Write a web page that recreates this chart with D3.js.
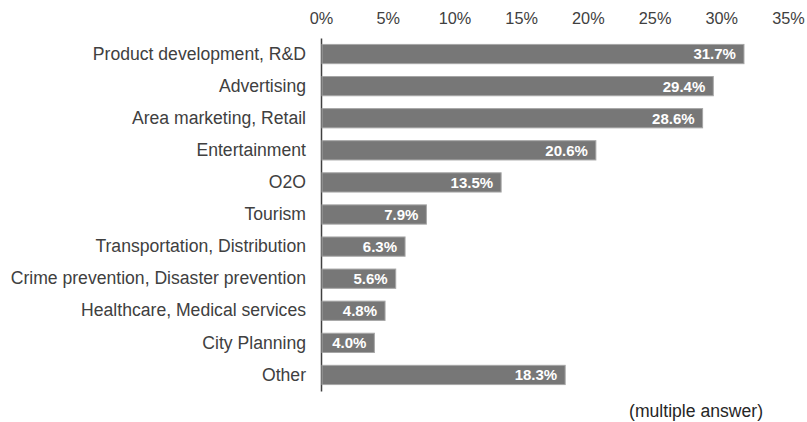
<!DOCTYPE html>
<html>
<head>
<meta charset="utf-8">
<script src="https://cdn.jsdelivr.net/npm/d3@7"></script>
<style>
  html, body { margin: 0; padding: 0; background: #fff; }
  svg { display: block; font-family: "Liberation Sans", Arial, sans-serif; }
</style>
</head>
<body>
<svg id="chart" width="807" height="422"></svg>
<script>
// Survey categories (top to bottom) and their share of responses, in percent
const categories = [
  "Product development, R&D",
  "Advertising",
  "Area marketing, Retail",
  "Entertainment",
  "O2O",
  "Tourism",
  "Transportation, Distribution",
  "Crime prevention, Disaster prevention",
  "Healthcare, Medical services",
  "City Planning",
  "Other"
];
const shares = [31.7, 29.4, 28.6, 20.6, 13.5, 7.9, 6.3, 5.6, 4.8, 4.0, 18.3];
const tickValues = [0, 5, 10, 15, 20, 25, 30, 35];
const footnote = "(multiple answer)";

const rows = categories.map((name, i) => ({ name, value: shares[i] }));

const svg = d3.select("#chart");
const plotLeft = 321, plotRight = 788, plotTop = 38, plotBottom = 391;

const x = d3.scaleLinear().domain([0, 35]).range([plotLeft, plotRight]);
const y = d3.scaleBand()
  .domain(categories)
  .range([plotTop, plotBottom])
  .paddingInner(0.4)
  .paddingOuter(0.2);

// Percentage axis along the top, labels only
const xAxis = d3.axisTop(x)
  .tickValues(tickValues)
  .tickFormat(d => d + "%")
  .tickSize(0)
  .tickPadding(0);
const gx = svg.append("g")
  .attr("transform", `translate(0,${plotTop - 14})`)
  .call(xAxis);
gx.select(".domain").remove();
gx.selectAll("text")
  .attr("fill", "#404040")
  .attr("font-size", 16.3)
  .attr("dy", 0);

// Category axis: vertical line with right-aligned labels
const yAxis = d3.axisLeft(y).tickSize(0).tickPadding(15);
const gy = svg.append("g")
  .attr("transform", `translate(${plotLeft},0)`)
  .call(yAxis);
gy.select(".domain").attr("stroke", "#404040").attr("stroke-width", 1.5);
gy.selectAll("text")
  .attr("fill", "#404040")
  .attr("font-size", 17.6);

// Bars
svg.append("g")
  .selectAll("rect")
  .data(rows)
  .join("rect")
  .attr("x", x(0) + 1)
  .attr("y", d => y(d.name))
  .attr("width", d => x(d.value) - x(0) - 1)
  .attr("height", y.bandwidth())
  .attr("fill", "#777777")
  .attr("stroke", "#a6a6a6")
  .attr("stroke-width", 1);

// Value labels inside the bar ends
svg.append("g")
  .selectAll("text")
  .data(rows)
  .join("text")
  .attr("x", d => x(d.value) - 8)
  .attr("y", d => y(d.name) + y.bandwidth() / 2)
  .attr("dy", "0.36em")
  .attr("text-anchor", "end")
  .attr("fill", "#ffffff")
  .attr("font-weight", "bold")
  .attr("font-size", 15)
  .text(d => d.value.toFixed(1) + "%");

// Footnote
svg.append("text")
  .attr("x", 763)
  .attr("y", 417)
  .attr("text-anchor", "end")
  .attr("fill", "#262626")
  .attr("font-size", 17.6)
  .text(footnote);
</script>
</body>
</html>
